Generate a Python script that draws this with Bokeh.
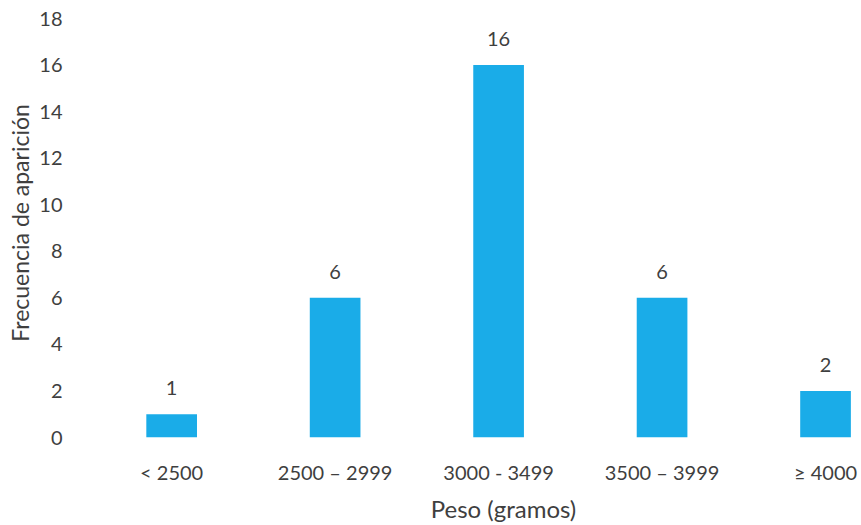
from bokeh.plotting import figure
from bokeh.models import ColumnDataSource, Range1d, FixedTicker
from bokeh.core.properties import value
from bokeh.embed import file_html
from bokeh.resources import INLINE

# Weight classes (grams) and how often each occurs
categories = ["< 2500", "2500 – 2999", "3000 - 3499", "3500 – 3999", "≥ 4000"]
counts = [1, 6, 16, 6, 2]
y_ticks = [0, 2, 4, 6, 8, 10, 12, 14, 16, 18]

FONT = "Lato"
TEXT_COLOR = "#3f3f3f"
BAR_COLOR = "#1aace8"

positions = list(range(len(categories)))
source = ColumnDataSource(data=dict(
    x=positions,
    top=counts,
    label=[str(c) for c in counts],
))

p = figure(
    width=861, height=525,
    output_backend="svg", toolbar_location=None,
    x_range=Range1d(-0.16, 4.22),
    y_range=Range1d(0, 18.43),
    min_border_left=145, min_border_right=0,
    min_border_top=8, min_border_bottom=84,
)

p.vbar(x="x", top="top", bottom=0, width=0.31, source=source,
       fill_color=BAR_COLOR, line_color=None)

p.text(x="x", y="top", text="label", source=source,
       text_align="center", text_baseline="bottom", y_offset=-19,
       text_font=value(FONT), text_font_size="20px", text_color=TEXT_COLOR)

# Axes: no lines or ticks, labels only
p.xaxis.ticker = FixedTicker(ticks=positions)
p.xaxis.major_label_overrides = {i: c for i, c in enumerate(categories)}
p.yaxis.ticker = FixedTicker(ticks=y_ticks)

for ax in (p.xaxis, p.yaxis):
    ax.axis_line_color = None
    ax.major_tick_line_color = None
    ax.minor_tick_line_color = None
    ax.major_tick_out = 0
    ax.major_tick_in = 0
    ax.major_label_text_font = FONT
    ax.major_label_text_font_size = "20px"
    ax.major_label_text_color = TEXT_COLOR
    ax.axis_label_text_font = FONT
    ax.axis_label_text_font_style = "normal"
    ax.axis_label_text_color = TEXT_COLOR

p.xaxis.axis_label = "Peso (gramos)"
p.xaxis.axis_label_text_font_size = "24px"
p.xaxis.major_label_standoff = 22
p.xaxis.axis_label_standoff = 7

p.yaxis.axis_label = "Frecuencia de aparición"
p.yaxis.axis_label_text_font_size = "23px"
p.yaxis.major_label_standoff = 83
p.yaxis.axis_label_standoff = 2

p.xgrid.grid_line_color = None
p.ygrid.grid_line_color = None
p.outline_line_color = None
p.background_fill_color = "white"
p.border_fill_color = "white"

open("out.html", "w").write(file_html(p, INLINE))
